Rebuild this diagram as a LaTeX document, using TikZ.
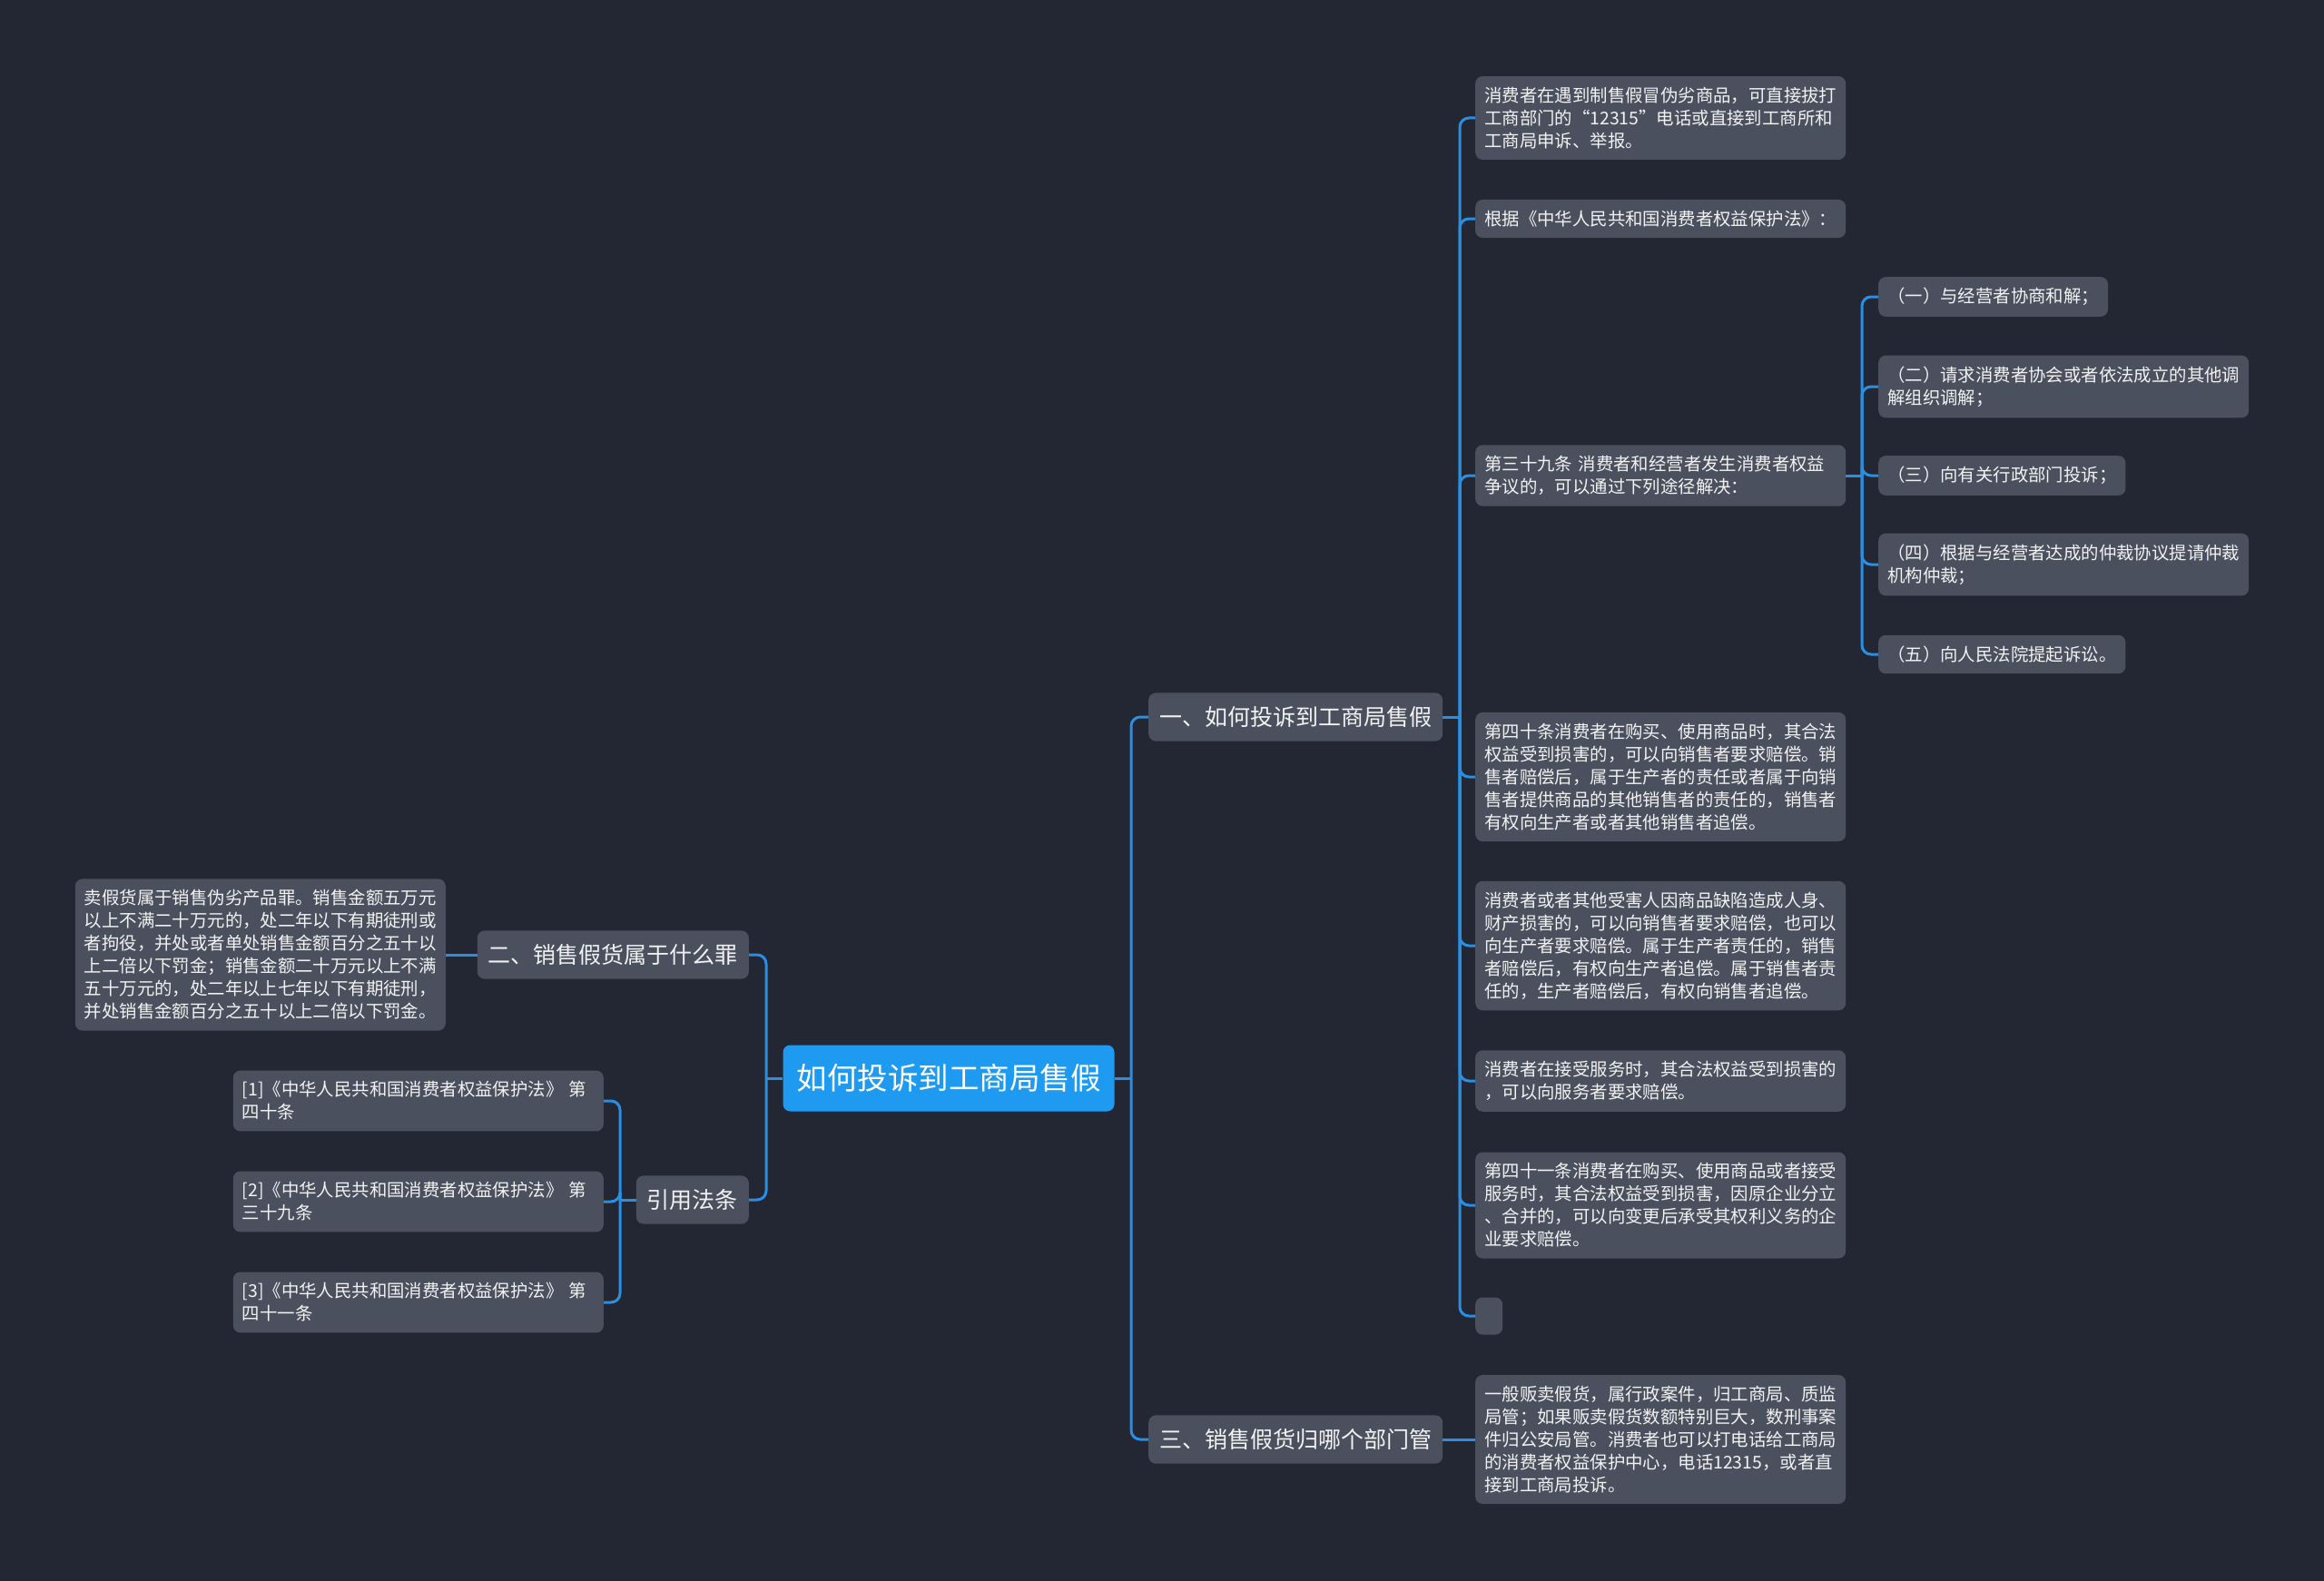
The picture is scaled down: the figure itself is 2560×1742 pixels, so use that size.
\documentclass[tikz,border=0pt]{standalone}
\usepackage{fontspec}
\setmainfont{Noto Sans CJK SC}
\usepackage{xcolor}
\usepackage{tikz}
\definecolor{primary}{HTML}{1E9AF0}
\definecolor{fondo}{HTML}{232733}
\definecolor{caja}{HTML}{4A505E}
\definecolor{linea}{HTML}{2A8FE0}
\definecolor{texto}{HTML}{F2F2F2}

\begin{document}
\begin{tikzpicture}[x=1pt, y=-1pt,
    hoja/.style={fill=caja, rounded corners=8pt, text=texto, align=left, inner xsep=10pt, inner ysep=12pt, font=\fontsize{19.4}{25}\selectfont},
    ancha/.style={hoja, text width=388pt},
    rama/.style={fill=caja, rounded corners=8pt, text=texto, inner xsep=12pt, inner ysep=15pt, font=\fontsize{25}{30}\selectfont},
    enlace/.style={draw=linea, line width=3pt, rounded corners=10pt}]
    % Fondo
    \fill[fondo] (0,0) rectangle (2560,1742);
    \useasboundingbox (0,0) rectangle (2560,1742);

    % Nodo central
    \node[fill=primary, rounded corners=8pt, text=white, inner xsep=15pt, inner ysep=21pt, font=\fontsize{33.5}{40}\selectfont] (raiz) at (1045,1188) {如何投诉到工商局售假};

    % Ramas
    \node[rama, anchor=west] (r1) at (1265,790) {一、如何投诉到工商局售假};
    \node[rama, anchor=west] (r3) at (1265,1586) {三、销售假货归哪个部门管};
    \node[rama, anchor=east] (r2) at (825,1052) {二、销售假货属于什么罪};
    \node[rama, anchor=east] (ref) at (825,1322) {引用法条};

    % Hojas de la primera rama
    \node[ancha, anchor=west] (h1) at (1625,130) {消费者在遇到制售假冒伪劣商品，可直接拔打\\工商部门的“12315”电话或直接到工商所和\\工商局申诉、举报。};
    \node[ancha, anchor=west] (h2) at (1625,241) {根据《中华人民共和国消费者权益保护法》：};
    \node[ancha, anchor=west] (h3) at (1625,524) {第三十九条 消费者和经营者发生消费者权益\\争议的，可以通过下列途径解决：};
    \node[ancha, anchor=west] (h4) at (1625,856) {第四十条消费者在购买、使用商品时，其合法\\权益受到损害的，可以向销售者要求赔偿。销\\售者赔偿后，属于生产者的责任或者属于向销\\售者提供商品的其他销售者的责任的，销售者\\有权向生产者或者其他销售者追偿。};
    \node[ancha, anchor=west] (h5) at (1625,1042) {消费者或者其他受害人因商品缺陷造成人身、\\财产损害的，可以向销售者要求赔偿，也可以\\向生产者要求赔偿。属于生产者责任的，销售\\者赔偿后，有权向生产者追偿。属于销售者责\\任的，生产者赔偿后，有权向销售者追偿。};
    \node[ancha, anchor=west] (h6) at (1625,1191) {消费者在接受服务时，其合法权益受到损害的\\，可以向服务者要求赔偿。};
    \node[ancha, anchor=west] (h7) at (1625,1328) {第四十一条消费者在购买、使用商品或者接受\\服务时，其合法权益受到损害，因原企业分立\\、合并的，可以向变更后承受其权利义务的企\\业要求赔偿。};
    \node[hoja, inner sep=0pt, minimum width=30pt, minimum height=41pt, anchor=west] (h8) at (1625,1450) {};

    % Vias de solucion
    \node[hoja, anchor=west] (v1) at (2069,327) {（一）与经营者协商和解；};
    \node[hoja, anchor=west] (v2) at (2069,426) {（二）请求消费者协会或者依法成立的其他调\\解组织调解；};
    \node[hoja, anchor=west] (v3) at (2069,524) {（三）向有关行政部门投诉；};
    \node[hoja, anchor=west] (v4) at (2069,622) {（四）根据与经营者达成的仲裁协议提请仲裁\\机构仲裁；};
    \node[hoja, anchor=west] (v5) at (2069,721) {（五）向人民法院提起诉讼。};

    % Hoja de la tercera rama
    \node[ancha, anchor=west] (h9) at (1625,1586) {一般贩卖假货，属行政案件，归工商局、质监\\局管；如果贩卖假货数额特别巨大，数刑事案\\件归公安局管。消费者也可以打电话给工商局\\的消费者权益保护中心，电话12315，或者直\\接到工商局投诉。};

    % Hojas de la izquierda
    \node[ancha, anchor=east] (d1) at (491,1052) {卖假货属于销售伪劣产品罪。销售金额五万元\\以上不满二十万元的，处二年以下有期徒刑或\\者拘役，并处或者单处销售金额百分之五十以\\上二倍以下罚金；销售金额二十万元以上不满\\五十万元的，处二年以上七年以下有期徒刑，\\并处销售金额百分之五十以上二倍以下罚金。};
    \node[ancha, anchor=east] (f1) at (665,1213) {[1]《中华人民共和国消费者权益保护法》 第\\四十条};
    \node[ancha, anchor=east] (f2) at (665,1324) {[2]《中华人民共和国消费者权益保护法》 第\\三十九条};
    \node[ancha, anchor=east] (f3) at (665,1435) {[3]《中华人民共和国消费者权益保护法》 第\\四十一条};

    % Puntos de union
    \coordinate (jr) at (1246,1188);
    \coordinate (jl) at (844,1188);
    \coordinate (j1) at (1608,790);
    \coordinate (j3) at (2051,524);
    \coordinate (jf) at (683,1322);

    % Conectores
    \draw[enlace] (raiz.east) -- (jr);
    \draw[enlace] (jr) |- (r1.west);
    \draw[enlace] (jr) |- (r3.west);
    \draw[enlace] (raiz.west) -- (jl);
    \draw[enlace] (jl) |- (r2.east);
    \draw[enlace] (jl) |- (ref.east);
    \draw[enlace] (r1.east) -- (j1);
    \foreach \h in {h1,h2,h3,h4,h5,h6,h7,h8}
        \draw[enlace] (j1) |- (\h.west);
    \draw[enlace] (h3.east) -- (j3);
    \foreach \v in {v1,v2,v3,v4,v5}
        \draw[enlace] (j3) |- (\v.west);
    \draw[enlace] (r3.east) -- (h9.west);
    \draw[enlace] (r2.west) -- (d1.east);
    \draw[enlace] (ref.west) -- (jf);
    \foreach \f in {f1,f2,f3}
        \draw[enlace] (jf) |- (\f.east);
\end{tikzpicture}
\end{document}
